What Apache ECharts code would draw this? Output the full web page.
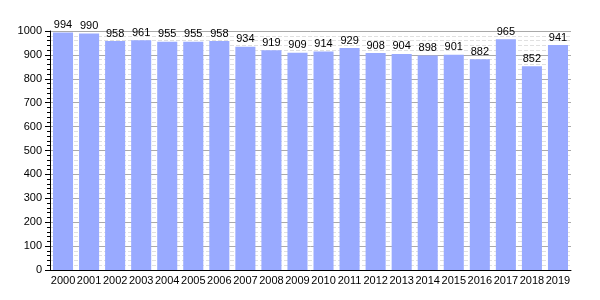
<!DOCTYPE html>
<html><head><meta charset="utf-8">
<script src="https://cdn.jsdelivr.net/npm/echarts@6/dist/echarts.min.js"></script>
<style>html,body{margin:0;padding:0;background:#fff}#c{width:600px;height:300px}</style>
</head><body><div id="c"></div>
<script>
const years = ['2000','2001','2002','2003','2004','2005','2006','2007','2008','2009','2010','2011','2012','2013','2014','2015','2016','2017','2018','2019'];
const values = [994,990,958,961,955,955,958,934,919,909,914,929,908,904,898,901,882,965,852,941];
const yTicks = [0,100,200,300,400,500,600,700,800,900,1000];
const chart = echarts.init(document.getElementById('c'));
chart.setOption({
  animation:false,
  grid:{left:50,right:29,top:31,bottom:30,containLabel:false},
  xAxis:{type:'category',data:years,
    axisLine:{lineStyle:{color:'#000',width:1}},
    axisTick:{show:false},
    axisLabel:{interval:0,color:'#000',fontSize:11,fontFamily:'Liberation Sans, Arial',margin:5}},
  yAxis:{type:'value',min:yTicks[0],max:yTicks[yTicks.length-1],interval:100,
    axisLine:{show:true,lineStyle:{color:'#000'}},
    axisTick:{show:true,length:5,lineStyle:{color:'#000'}},
    minorTick:{show:true,splitNumber:5,length:3,lineStyle:{color:'#000'}},
    splitLine:{show:true,lineStyle:{color:'#aaaaaa',width:1}},
    minorSplitLine:{show:true,lineStyle:{color:'#e0e0e0',type:'dashed',width:1}},
    axisLabel:{formatter:v=>String(v),color:'#000',fontSize:11,fontFamily:'Liberation Sans, Arial',margin:8}},
  series:[{type:'bar',data:values,barWidth:'77%',z:3,
    itemStyle:{color:'#99aaff'},
    label:{show:true,position:'top',distance:2,color:'#000',fontSize:11,fontFamily:'Liberation Sans, Arial'}}]
});
</script></body></html>
